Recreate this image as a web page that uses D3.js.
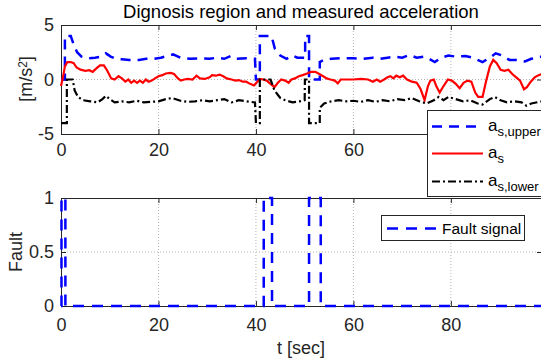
<!DOCTYPE html>
<html>
<head>
<meta charset="utf-8">
<script src="https://cdn.jsdelivr.net/npm/d3@7"></script>
<style>
  body { margin: 0; background: #fff; }
  svg { display: block; }
  svg text { font-family: "Liberation Sans", Arial, sans-serif; }
</style>
</head>
<body>
<svg id="graph" width="541" height="362"></svg>
<script>
// measured acceleration a_s
const asTime = [0, 0.4, 0.8, 1.3, 2.0, 2.6, 3.2, 4.0, 5.0, 5.8, 6.5, 7.2, 8.0, 8.8, 9.5, 10.3, 11.0, 11.8, 12.5, 13.2, 13.8, 14.4, 15.0, 15.6, 16.2, 16.8, 17.4, 18.0, 18.6, 19.3, 20.0, 20.8, 21.5, 22.5, 23.2, 24.0, 24.6, 25.3, 26.0, 27.0, 27.8, 28.5, 29.5, 30.5, 31.0, 31.8, 32.5, 33.3, 34.0, 35.0, 35.8, 36.5, 37.3, 38.0, 38.8, 39.6, 40.3, 40.8, 41.5, 42.2, 43.0, 43.8, 44.5, 45.2, 46.0, 46.7, 47.3, 48.0, 48.8, 49.6, 50.5, 51.3, 52.2, 53.0, 53.8, 54.5, 55.3, 56.2, 56.8, 57.4, 58.5, 60.0, 61.5, 63.0, 64.0, 64.8, 65.5, 66.3, 67.0, 67.6, 68.2, 68.8, 69.5, 70.2, 71.0, 72.0, 73.0, 73.8, 74.6, 75.3, 75.8, 76.5, 77.0, 77.7, 78.5, 79.4, 80.2, 81.0, 81.8, 82.6, 83.4, 84.2, 85.0, 85.6, 86.5, 87.2, 88.0, 88.7, 89.4, 90.2, 91.0, 91.8, 92.6, 93.4, 94.2, 95.0, 95.6, 96.4, 97.2, 98.0, 98.7];
const asValue = [-0.6, 0.2, 1.2, 1.6, 1.6, 1.5, 1.1, 0.9, 0.8, 0.85, 0.7, 1.0, 1.3, 1.3, 0.8, 0.1, 0.0, 0.3, 0.1, -0.2, 0.0, -0.3, -0.1, -0.3, -0.1, -0.3, 0.0, -0.2, -0.1, 0.1, 0.3, 0.4, 0.55, 0.6, 0.5, 0.1, -0.1, 0.0, 0.05, 0.0, 0.35, 0.1, 0.05, 0.2, 0.4, 0.35, 0.45, 0.3, 0.1, 0.0, -0.1, -0.05, -0.2, -0.2, -0.4, -0.55, -0.2, 0.05, 0.0, -0.1, -0.4, -0.7, -0.3, 0.0, -0.1, -0.3, 0.0, 0.1, 0.3, 0.4, 0.55, 0.7, 0.7, 0.5, 0.3, 0.1, 0.0, -0.1, -0.35, 0.0, 0.0, 0.0, 0.05, 0.0, -0.2, 0.0, -0.2, 0.0, 0.2, 0.3, 0.1, 0.35, 0.2, 0.35, 0.0, -0.2, -0.3, -0.9, -1.9, -0.6, -0.1, 0.0, -0.6, -1.2, -0.6, 0.0, -0.1, -0.4, -0.8, -0.3, -0.1, -0.2, -1.2, -1.6, -1.6, -0.2, 1.2, 1.8, 1.5, 0.9, 0.8, 0.9, 0.5, 0.2, -0.1, -0.9, -0.7, -0.2, 0.2, 0.4, 0.5];

// upper limit a_s,upper
const upperTime = [0, 0.8, 0.8, 2.0, 2.6, 3.3, 4.2, 5.5, 7.0, 8.2, 9.2, 10.2, 11.2, 12.5, 14.0, 16.0, 17.5, 19.0, 20.5, 22.0, 23.0, 24.5, 26.5, 28.5, 30.5, 32.0, 33.5, 34.8, 36.0, 38.0, 39.8, 40.0, 40.8, 40.8, 43.2, 43.9, 45.0, 46.3, 47.5, 48.5, 50.1, 50.1, 50.9, 50.9, 53.1, 53.1, 54.0, 55.5, 57.5, 60.0, 62.0, 64.0, 65.5, 67.0, 68.5, 70.0, 71.5, 73.0, 74.5, 75.5, 76.7, 78.0, 79.5, 81.0, 83.0, 84.5, 86.5, 88.0, 89.2, 90.5, 92.0, 93.5, 95.2, 96.5, 98.7];
const upperValue = [0, 0, 4, 4, 3.2, 2.5, 2.1, 1.95, 2.0, 2.1, 2.4, 2.1, 1.9, 1.85, 1.8, 1.8, 1.9, 1.9, 2.0, 2.2, 2.3, 2.0, 1.9, 1.95, 1.9, 2.0, 1.9, 2.15, 1.9, 1.95, 1.9, 0, 0, 4, 4, 2.8, 2.2, 1.9, 2.2, 2.0, 2.0, 4, 4, 0, 0, 1.6, 1.8, 1.9, 1.95, 1.95, 1.9, 2.0, 1.9, 2.0, 2.1, 2.0, 2.25, 2.0, 2.1, 1.9, 1.6, 2.0, 2.2, 2.1, 2.15, 2.0, 1.6, 2.0, 2.4, 2.2, 1.8, 1.8, 1.65, 1.9, 2.1];

// lower limit a_s,lower
const lowerTime = [0, 1.2, 1.2, 2.4, 2.8, 3.5, 4.5, 6.0, 7.5, 8.5, 9.2, 10.0, 11.0, 12.5, 14.0, 15.5, 17.0, 18.5, 20.0, 21.5, 22.8, 24.5, 26.0, 27.5, 29.0, 30.5, 32.0, 33.5, 35.0, 36.5, 38.0, 39.8, 40.0, 40.8, 40.8, 43.0, 43.8, 45.0, 46.0, 47.5, 49.0, 50.0, 50.05, 50.9, 50.9, 53.1, 53.1, 54.0, 55.5, 57.0, 58.5, 60.0, 61.5, 63.0, 64.5, 66.0, 67.5, 69.0, 70.5, 72.0, 73.5, 75.0, 76.5, 77.5, 78.5, 79.5, 81.0, 82.5, 84.0, 85.5, 86.5, 88.0, 89.0, 90.2, 91.5, 93.0, 94.5, 95.5, 96.5, 98.7];
const lowerValue = [-4, -4, 0, 0, -1.0, -1.6, -1.9, -2.0, -2.1, -1.8, -1.5, -1.8, -2.1, -2.0, -2.1, -1.95, -2.1, -2.05, -2.0, -1.8, -1.7, -1.95, -2.05, -2.0, -1.9, -2.0, -1.9, -1.8, -2.1, -1.9, -2.0, -2.1, -4, -4, 0, 0, -1.0, -1.7, -1.9, -2.1, -2.0, -1.9, 0, 0, -4, -4, -2.6, -2.2, -2.0, -1.9, -2.0, -1.95, -2.05, -1.9, -2.05, -1.9, -2.0, -1.8, -1.9, -1.7, -2.0, -2.2, -1.9, -1.6, -1.9, -1.6, -1.8, -2.0, -1.9, -2.2, -2.3, -1.8, -1.6, -1.9, -2.1, -2.0, -2.1, -2.4, -2.2, -2.0];

// fault signal
const faultTime = [0, 0.1, 0.1, 0.9, 0.9, 41.6, 41.6, 43.3, 43.3, 50.9, 50.9, 53.3, 53.3, 98.7];
const faultValue = [0, 0, 1, 1, 0, 0, 1, 1, 0, 0, 1, 1, 0, 0];

const xTicks = [0, 20, 40, 60, 80];
const topTicks = [-5, 0, 5];
const bottomTicks = [0, 0.5, 1];

const svg = d3.select("#graph");
const ink = "#262626";
const fmt = (d) => String(d);

const x = d3.scaleLinear([0, 98.7], [61, 542]);
const yTop = d3.scaleLinear([-5, 5], [134, 25]);
const yBot = d3.scaleLinear([0, 1], [306, 198]);

// grid + box + ticks, matlab style
function frame(y, yTicks, gridY, pad) {
  const [y0, y1] = y.range();
  const g = svg.append("g");
  g.selectAll(".gx")
    .data(xTicks.filter((d) => d > 0))
    .join("line")
    .attr("x1", (d) => x(d)).attr("x2", (d) => x(d))
    .attr("y1", y1).attr("y2", y0)
    .attr("stroke", "#b4b4b4").attr("stroke-dasharray", "1,2");
  g.selectAll(".gy")
    .data(gridY)
    .join("line")
    .attr("x1", 61).attr("x2", 542)
    .attr("y1", (d) => y(d)).attr("y2", (d) => y(d))
    .attr("stroke", "#b4b4b4").attr("stroke-dasharray", "1,2");

  const bottom = svg.append("g").attr("transform", `translate(0,${y0})`)
    .call(d3.axisBottom(x).tickValues(xTicks).tickFormat(fmt).tickSize(-5).tickPadding(pad).tickSizeOuter(0));
  const top = svg.append("g").attr("transform", `translate(0,${y1})`)
    .call(d3.axisTop(x).tickValues(xTicks).tickSize(-5).tickFormat("").tickSizeOuter(0));
  const left = svg.append("g").attr("transform", "translate(61,0)")
    .call(d3.axisLeft(y).tickValues(yTicks).tickFormat(fmt).tickSize(-5).tickPadding(7).tickSizeOuter(0));
  const right = svg.append("g").attr("transform", "translate(542,0)")
    .call(d3.axisRight(y).tickValues(yTicks).tickSize(-5).tickFormat("").tickSizeOuter(0));
  for (const a of [bottom, top, left, right]) {
    a.attr("font-family", null);
    a.selectAll("path, line").attr("stroke", ink);
    a.selectAll("text").attr("fill", ink).style("font-size", "18px");
  }
}

frame(yTop, topTicks, [0], 9);
frame(yBot, bottomTicks, [0.5], 12);

// series
function series(times, values, y, color, dash, w) {
  const line = d3.line().x((d) => x(d[0])).y((d) => y(d[1]));
  svg.append("path")
    .datum(d3.zip(times, values))
    .attr("d", line)
    .attr("fill", "none")
    .attr("stroke", color)
    .attr("stroke-width", w)
    .attr("stroke-dasharray", dash);
}

series(upperTime, upperValue, yTop, "#0000ff", "10,7", 2.5);
series(asTime, asValue, yTop, "#ff0000", null, 2.2);
series(lowerTime, lowerValue, yTop, "#000", "8,3,2,3", 2.2);
series(faultTime, faultValue, yBot, "#0000ff", "11,8", 2.5);

// titles / labels
svg.append("text").attr("x", 301).attr("y", 18).attr("text-anchor", "middle")
  .style("font-size", "18.5px").attr("fill", "#000")
  .text("Dignosis region and measured acceleration");

const yl = svg.append("text")
  .attr("transform", "translate(32,79) rotate(-90)")
  .attr("text-anchor", "middle").style("font-size", "18px").attr("fill", ink);
yl.append("tspan").text("[m/s");
yl.append("tspan").attr("dy", "-0.45em").style("font-size", "12px").text("2");
yl.append("tspan").attr("dy", "0.3em").text("]");

svg.append("text").attr("transform", "translate(22,252) rotate(-90)")
  .attr("text-anchor", "middle").style("font-size", "18px").attr("fill", ink)
  .text("Fault");

svg.append("text").attr("x", 301).attr("y", 354).attr("text-anchor", "middle")
  .style("font-size", "18px").attr("fill", ink).text("t [sec]");

// legend of top plot
const leg = svg.append("g");
leg.append("rect").attr("x", 427.5).attr("y", 110.5).attr("width", 130).attr("height", 86)
  .attr("fill", "#fff").attr("stroke", ink);
const entries = [
  { sub: "s,upper", color: "#0000ff", dash: "10,7", w: 2.5, y: 126.5 },
  { sub: "s", color: "#ff0000", dash: null, w: 2.2, y: 153.5 },
  { sub: "s,lower", color: "#000", dash: "8,3,2,3", w: 2.2, y: 181.5 },
];
for (const e of entries) {
  leg.append("line").attr("x1", 432).attr("x2", 483).attr("y1", e.y).attr("y2", e.y)
    .attr("stroke", e.color).attr("stroke-width", e.w).attr("stroke-dasharray", e.dash);
  const t = leg.append("text").attr("x", 488).attr("y", e.y + 4.5).attr("fill", "#000")
    .style("font-size", "17px");
  t.append("tspan").text("a");
  t.append("tspan").attr("dy", 5).style("font-size", "13px").text(e.sub);
}

// legend of fault plot
const leg2 = svg.append("g");
leg2.append("rect").attr("x", 381.5).attr("y", 215.5).attr("width", 143).attr("height", 25)
  .attr("fill", "#fff").attr("stroke", ink);
leg2.append("line").attr("x1", 387).attr("x2", 437).attr("y1", 228.5).attr("y2", 228.5)
  .attr("stroke", "#0000ff").attr("stroke-width", 2.5).attr("stroke-dasharray", "11,8");
leg2.append("text").attr("x", 442).attr("y", 234).style("font-size", "15.5px")
  .attr("fill", "#000").text("Fault signal");
</script>
</body>
</html>
